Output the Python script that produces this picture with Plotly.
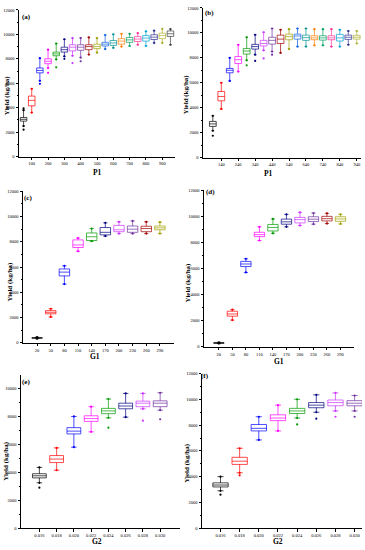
import plotly.graph_objects as go

# ---------------- data ----------------
# (a) P1
a_cat = [50, 100, 150, 200, 250, 300, 350, 400, 450, 500, 550, 600, 650, 700, 750, 800, 850, 900, 950]
a_q1 = [2900, 4150, 6850, 7600, 8250, 8550, 8650, 8700, 8750, 8830, 9050, 9100, 9200, 9350, 9420, 9450, 9580, 9650, 9830]
a_med = [3050, 4600, 7050, 7800, 8400, 8750, 8950, 8950, 9000, 9000, 9200, 9300, 9450, 9550, 9620, 9700, 9770, 9900, 10050]
a_q3 = [3200, 4950, 7250, 8000, 8550, 8950, 9150, 9150, 9150, 9200, 9350, 9500, 9650, 9750, 9820, 9900, 9970, 10100, 10280]
a_lo = [2500, 3600, 6200, 7250, 7950, 8200, 8250, 8100, 8350, 8500, 8800, 8900, 9000, 9050, 9150, 9050, 9300, 9300, 9150]
a_hi = [3800, 5550, 8050, 8750, 9250, 9600, 9700, 9700, 9750, 9700, 9950, 10000, 10050, 10050, 10100, 10250, 10300, 10450, 10430]
a_out = [[2200, 3950], [], [5950], [6850], [7300], [8000], [7650], [7800], [], [], [], [], [], [], [], [], [], [], []]
a_ticks = [100, 200, 300, 400, 500, 600, 700, 800, 900]
a_ticktext = ["100", "200", "300", "400", "500", "600", "700", "800", "900"]

# (b) P1
b_cat = [90, 140, 190, 240, 290, 340, 390, 440, 490, 540, 590, 640, 690, 740, 790, 840, 890, 940]
b_q1 = [2500, 4550, 6800, 7550, 8300, 8700, 8950, 9100, 9150, 9450, 9500, 9400, 9450, 9420, 9450, 9350, 9480, 9500]
b_med = [2700, 4900, 7000, 7850, 8550, 8900, 9150, 9400, 9500, 9700, 9750, 9620, 9600, 9600, 9600, 9600, 9650, 9650]
b_q3 = [2900, 5300, 7150, 8100, 8750, 9080, 9400, 9650, 9820, 9900, 9900, 9820, 9770, 9770, 9770, 9880, 9820, 9800]
b_lo = [2150, 3900, 6150, 6900, 7800, 8250, 8600, 8500, 8400, 8700, 8900, 8900, 9000, 9000, 8900, 8900, 9050, 9150]
b_hi = [3350, 6000, 8000, 9050, 9650, 9850, 10050, 10350, 10250, 10300, 10350, 10350, 10300, 10300, 10300, 10250, 10150, 10150]
b_out = [[1750], [], [], [], [7400], [7750], [7950], [8250], [], [], [], [], [], [], [], [], [], []]
b_ticks = [140, 240, 340, 440, 540, 640, 740, 840, 940]
b_ticktext = ["140", "240", "340", "440", "540", "640", "740", "840", "940"]

# (c) G1
c_cat = [20, 50, 80, 110, 140, 170, 200, 230, 260, 290]
c_q1 = [370, 2300, 5300, 7550, 8100, 8550, 8800, 8750, 8800, 8950]
c_med = [390, 2420, 5600, 7750, 8400, 8750, 8950, 9000, 9050, 9100]
c_q3 = [410, 2550, 5850, 8150, 8700, 9130, 9300, 9250, 9230, 9250]
c_lo = [330, 2050, 4650, 7250, 8050, 8450, 8650, 8650, 8650, 8650]
c_hi = [450, 2700, 6100, 8300, 9050, 9500, 9580, 9650, 9580, 9550]
c_out = [[], [], [], [], [], [], [], [], [], []]

# (d) G1
d_cat = [20, 50, 80, 110, 140, 170, 200, 230, 260, 290]
d_q1 = [270, 2350, 6150, 8450, 8880, 9400, 9500, 9600, 9650, 9620]
d_med = [300, 2520, 6350, 8600, 9150, 9580, 9750, 9780, 9820, 9800]
d_q3 = [320, 2730, 6550, 8780, 9380, 9790, 9920, 9970, 10000, 9970]
d_lo = [250, 2050, 5700, 8150, 8700, 9200, 9300, 9400, 9450, 9420]
d_hi = [350, 2850, 6750, 9200, 9800, 10150, 10300, 10250, 10230, 10150]
d_out = [[], [], [], [], [], [], [], [], [], []]

# (e) G2
e_cat = [0.016, 0.018, 0.020, 0.022, 0.024, 0.026, 0.028, 0.030]
e_q1 = [3600, 4700, 6750, 7650, 8200, 8550, 8700, 8700]
e_med = [3750, 4950, 6950, 7850, 8400, 8750, 8950, 8950]
e_q3 = [3900, 5200, 7200, 8050, 8580, 8950, 9100, 9120]
e_lo = [3250, 4150, 5800, 6900, 7900, 7950, 8550, 8450]
e_hi = [4350, 5750, 8000, 8700, 9250, 9650, 9650, 9700]
e_out = [[2900], [], [], [], [7200], [], [7700], [7800]]

# (f) G2
f_cat = [0.016, 0.018, 0.020, 0.022, 0.024, 0.026, 0.028, 0.030]
f_q1 = [3200, 4950, 7550, 8350, 8900, 9350, 9500, 9500]
f_med = [3350, 5200, 7750, 8550, 9100, 9550, 9750, 9700]
f_q3 = [3520, 5500, 8050, 8800, 9300, 9750, 9950, 9900]
f_lo = [2900, 4300, 6850, 7550, 8550, 9000, 9100, 9100]
f_hi = [4000, 6200, 8650, 9550, 10000, 10350, 10500, 10300]
f_out = [[2600], [4100], [], [], [8050], [8500], [8650], [8650]]
g2_ticktext = ["0.016", "0.018", "0.020", "0.022", "0.024", "0.026", "0.028", "0.030"]

colors19 = ["#000000", "#ff0000", "#0000ff", "#ff00ff", "#009900", "#000080", "#cc33ff",
            "#7030a0", "#a00000", "#a0a000", "#1060e0", "#009090", "#ff8000", "#00a060",
            "#ff3399", "#00a0d0", "#303090", "#b0b030", "#404040"]

# ---------------- figure ----------------
W, H = 365, 550
fig = go.Figure()

panels = [
    dict(key="a", cat=a_cat, q1=a_q1, med=a_med, q3=a_q3, lo=a_lo, hi=a_hi, out=a_out,
         px=(19, 175), py=(8, 156), xr=[22, 978], yr=[0, 12000], ytop=12000,
         ticks=a_ticks, ticktext=a_ticktext, bw=40, xt="P1",
         xtpos=(97, 172), ytpos=(7, 95), lab=(26, 15)),
    dict(key="b", cat=b_cat, q1=b_q1, med=b_med, q3=b_q3, lo=b_lo, hi=b_hi, out=b_out,
         px=(203, 361), py=(6, 157), xr=[32, 965], yr=[0, 12000], ytop=12000,
         ticks=b_ticks, ticktext=b_ticktext, bw=40, xt="P1",
         xtpos=(268, 173), ytpos=(186, 94), lab=(209, 11)),
    dict(key="c", cat=c_cat, q1=c_q1, med=c_med, q3=c_q3, lo=c_lo, hi=c_hi, out=c_out,
         px=(23, 174), py=(191, 344), xr=[-11, 321], yr=[0, 12000], ytop=12000,
         ticks=c_cat, ticktext=[str(v) for v in c_cat], bw=23, xt="G1",
         xtpos=(95, 358), ytpos=(10, 283), lab=(28, 198)),
    dict(key="d", cat=d_cat, q1=d_q1, med=d_med, q3=d_q3, lo=d_lo, hi=d_hi, out=d_out,
         px=(204, 354), py=(190, 348), xr=[-13, 320], yr=[0, 12000], ytop=12000,
         ticks=d_cat, ticktext=[str(v) for v in d_cat], bw=23, xt="G1",
         xtpos=(279, 363), ytpos=(188, 284), lab=(211, 192)),
    dict(key="e", cat=e_cat, q1=e_q1, med=e_med, q3=e_q3, lo=e_lo, hi=e_hi, out=e_out,
         px=(21, 180), py=(376, 531), xr=[0.01387, 0.0323], yr=[0, 11000], ytop=10000,
         ticks=e_cat, ticktext=g2_ticktext, bw=0.0016, xt="G2",
         xtpos=(97, 544), ytpos=(6, 464), lab=(26, 383)),
    dict(key="f", cat=f_cat, q1=f_q1, med=f_med, q3=f_q3, lo=f_lo, hi=f_hi, out=f_out,
         px=(202, 362), py=(375, 531), xr=[0.01407, 0.03077], yr=[0, 12000], ytop=12000,
         ticks=f_cat, ticktext=g2_ticktext, bw=0.0016, xt="G2",
         xtpos=(278, 544), ytpos=(187, 466), lab=(205, 377)),
]

serif = "Liberation Serif"
annotations = []
for i, p in enumerate(panels):
    n = i + 1
    xa = "x" if n == 1 else f"x{n}"
    ya = "y" if n == 1 else f"y{n}"
    for j, pos in enumerate(p["cat"]):
        col = colors19[j]
        fig.add_trace(go.Box(
            x=[pos], q1=[p["q1"][j]], median=[p["med"][j]], q3=[p["q3"][j]],
            lowerfence=[p["lo"][j]], upperfence=[p["hi"][j]],
            orientation="v", width=p["bw"], whiskerwidth=0.4,
            line=dict(color=col, width=0.7), fillcolor="rgba(255,255,255,0)",
            boxpoints=False, xaxis=xa, yaxis=ya, showlegend=False, hoverinfo="skip"))
    # whisker-end and outlier dots
    px_, py_, pc_ = [], [], []
    for j, pos in enumerate(p["cat"]):
        for v in [p["lo"][j], p["hi"][j]] + p["out"][j]:
            px_.append(pos); py_.append(v); pc_.append(colors19[j])
    fig.add_trace(go.Scatter(x=px_, y=py_, mode="markers",
                             marker=dict(size=2.2, color=pc_),
                             xaxis=xa, yaxis=ya, showlegend=False, hoverinfo="skip"))

    xd = [p["px"][0] / W, p["px"][1] / W]
    yd = [1 - p["py"][1] / H, 1 - p["py"][0] / H]
    axis_common = dict(showline=True, linecolor="black", linewidth=1, showgrid=False,
                       zeroline=False, ticks="outside", ticklen=2.5, tickwidth=0.8,
                       tickcolor="black", tickfont=dict(family=serif, size=4.5, color="black"))
    fig.layout[("xaxis" if n == 1 else f"xaxis{n}")] = dict(
        domain=xd, anchor=ya, range=p["xr"], tickmode="array", tickvals=p["ticks"],
        ticktext=p["ticktext"], **axis_common)
    fig.layout[("yaxis" if n == 1 else f"yaxis{n}")] = dict(
        domain=yd, anchor=xa, range=p["yr"], tickmode="array",
        tickvals=list(range(0, p["ytop"] + 1, 2000)),
        ticktext=[str(v) for v in range(0, p["ytop"] + 1, 2000)],
        minor=dict(ticks="outside", ticklen=1.5, tickcolor="black",
                   tickvals=list(range(1000, p["yr"][1], 2000))),
        **axis_common)
    common_ann = dict(xref="paper", yref="paper", showarrow=False,
                      xanchor="center", yanchor="middle")
    annotations.append(dict(text="<b>%s</b>" % p["xt"], x=p["xtpos"][0] / W, y=1 - p["xtpos"][1] / H,
                            font=dict(family=serif, size=7.5, color="black"), **common_ann))
    annotations.append(dict(text="<b>Yield (kg/ha)</b>", x=p["ytpos"][0] / W, y=1 - p["ytpos"][1] / H,
                            textangle=-90, font=dict(family=serif, size=7, color="black"), **common_ann))
    annotations.append(dict(text="<b>(%s)</b>" % p["key"], x=p["lab"][0] / W, y=1 - p["lab"][1] / H,
                            font=dict(family=serif, size=7, color="black"), **common_ann))

fig.update_layout(width=W, height=H, margin=dict(l=0, r=0, t=0, b=0),
                  paper_bgcolor="white", plot_bgcolor="white",
                  annotations=annotations, showlegend=False)

fig.write_html("out.html", config={"displayModeBar": False},
               post_script="document.body.style.margin='0';")
